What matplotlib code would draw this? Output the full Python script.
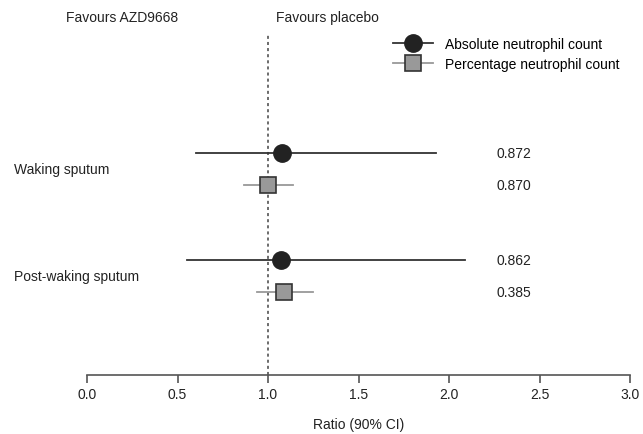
import matplotlib
matplotlib.use("Agg")
import matplotlib.pyplot as plt

plt.rcParams['font.family'] = ['Liberation Sans', 'DejaVu Sans']

groups = ["Waking sputum", "Post-waking sputum"]
abs_ratio = [1.08, 1.07]
abs_lo = [0.60, 0.55]
abs_hi = [1.93, 2.09]
abs_p = ["0.872", "0.862"]
pct_ratio = [1.00, 1.09]
pct_lo = [0.87, 0.94]
pct_hi = [1.14, 1.25]
pct_p = ["0.870", "0.385"]
xticks = [0.0, 0.5, 1.0, 1.5, 2.0, 2.5, 3.0]

fig = plt.figure(figsize=(6.43, 4.35), dpi=100)
ax = fig.add_axes([87 / 643, 0.136, 543 / 643, 0.795])
ax.set_xlim(0, 3)
ax.set_ylim(0, 10)

abs_y = [6.42, 3.32]
pct_y = [5.49, 2.40]
lab_y = [5.95, 2.86]

ax.axvline(1.0, ymin=0, ymax=0.985, color="#444444", linestyle=(0, (2, 2)), linewidth=1.1, zorder=1)

for i in range(len(groups)):
    ax.plot([abs_lo[i], abs_hi[i]], [abs_y[i], abs_y[i]], color="#333333", linewidth=1.3, zorder=2)
    ax.plot(abs_ratio[i], abs_y[i], marker="o", markersize=12.5, color="#222222", zorder=3)
    ax.plot([pct_lo[i], pct_hi[i]], [pct_y[i], pct_y[i]], color="#999999", linewidth=1.3, zorder=2)
    ax.plot(pct_ratio[i], pct_y[i], marker="s", markersize=11, markerfacecolor="#999999",
            markeredgecolor="#333333", markeredgewidth=1.2, zorder=3)
    ax.text(2.26, abs_y[i], abs_p[i], ha="left", va="center", fontsize=10, color="#222222")
    ax.text(2.26, pct_y[i], pct_p[i], ha="left", va="center", fontsize=10, color="#222222")
    fig.text(0.022, 0.136 + 0.795 * lab_y[i] / 10, groups[i], ha="left", va="center",
             fontsize=10, color="#222222")

# legend
l1, = ax.plot([], [], color="#333333", linewidth=1.3, marker="o", markersize=12.5,
              markerfacecolor="#222222", markeredgecolor="#222222")
l2, = ax.plot([], [], color="#999999", linewidth=1.3, marker="s", markersize=11,
              markerfacecolor="#999999", markeredgecolor="#333333", markeredgewidth=1.2)
ax.legend([l1, l2], ["Absolute neutrophil count", "Percentage neutrophil count"],
          loc="upper left", bbox_to_anchor=(0.545, 1.005), frameon=False, fontsize=10,
          handlelength=2.9, handletextpad=0.9, labelspacing=0.45, borderpad=0.2)

fig.text(122 / 643, 1 - 18 / 435, "Favours AZD9668", ha="center", va="center", fontsize=10, color="#222222")
fig.text(327 / 643, 1 - 18 / 435, "Favours placebo", ha="center", va="center", fontsize=10, color="#222222")

for s in ["top", "right", "left"]:
    ax.spines[s].set_visible(False)
ax.spines["bottom"].set_color("#555555")
ax.spines["bottom"].set_linewidth(1.2)
ax.set_yticks([])
ax.set_xticks(xticks)
ax.set_xticklabels(["%.1f" % t for t in xticks], fontsize=10, color="#222222")
ax.tick_params(axis="x", direction="out", length=6, width=1.2, color="#555555", pad=3)
ax.set_xlabel("Ratio (90% CI)", fontsize=10, color="#222222", labelpad=11)

fig.savefig("out.png", dpi=100)
